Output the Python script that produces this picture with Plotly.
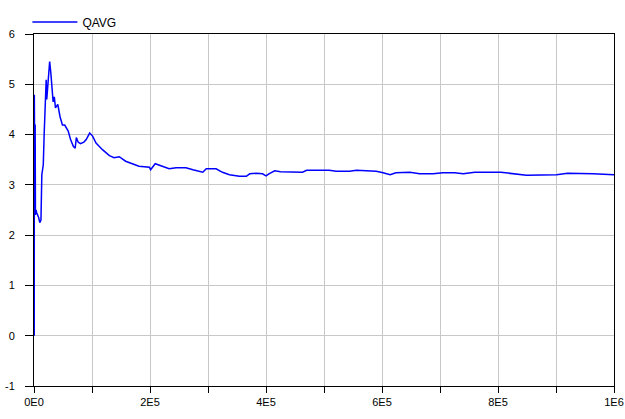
import plotly.graph_objects as go

series_name = "QAVG"

# time (thousands) and average queue values
t_k = [0.4, 0.6, 1.5, 2, 2.5, 3, 3.5, 4.5, 8, 10, 12, 13.5, 15, 16, 17.5, 19, 21, 22, 24, 27,
       29, 31, 33, 35, 37, 41, 45, 49, 53, 59, 63, 68, 71, 73, 76, 80, 86, 90, 96, 101,
       107, 118, 130, 138, 147, 158, 170, 181, 199, 201, 209, 219, 228, 233, 245, 262, 274,
       291, 297, 314, 325, 337, 354, 366, 372, 383, 394, 400, 405, 415, 425, 441, 463, 470,
       509, 521, 544, 556, 590, 602, 614, 624, 640, 648, 665, 688, 705, 725, 740, 760, 805,
       827, 849, 901, 920, 964, 1000]
qavg = [0, 4.79, 2.6, 4.2, 2.4, 3.3, 2.5, 2.45, 2.35, 2.25, 2.3, 3.2, 3.3, 3.4, 4.0, 4.73, 5.09, 4.7, 5.1, 5.45,
        5.23, 4.97, 4.65, 4.75, 4.53, 4.6, 4.35, 4.19, 4.19, 4.07, 3.9, 3.76, 3.73, 3.94, 3.85, 3.82, 3.85, 3.9, 4.03, 3.97,
        3.83, 3.7, 3.58, 3.54, 3.56, 3.47, 3.42, 3.37, 3.35, 3.3, 3.42, 3.38, 3.34, 3.32, 3.34, 3.34, 3.3,
        3.25, 3.32, 3.32, 3.25, 3.2, 3.17, 3.17, 3.22, 3.23, 3.22, 3.18, 3.22, 3.28, 3.26, 3.25, 3.25, 3.29,
        3.29, 3.27, 3.27, 3.29, 3.27, 3.24, 3.2, 3.24, 3.25, 3.25, 3.22, 3.22, 3.24, 3.24, 3.22, 3.25, 3.25,
        3.22, 3.19, 3.2, 3.23, 3.22, 3.2]

x_tick_vals = [0, 1e5, 2e5, 3e5, 4e5, 5e5, 6e5, 7e5, 8e5, 9e5, 1e6]
x_tick_text = ["0E0", "", "2E5", "", "4E5", "", "6E5", "", "8E5", "", "1E6"]
y_tick_vals = [-1, 0, 1, 2, 3, 4, 5, 6]

t = [v * 1000 for v in t_k]

fig = go.Figure()
fig.add_trace(go.Scatter(x=t, y=qavg, mode="lines", name=series_name,
                         line=dict(color="#0000ff", width=1.5)))

axis_common = dict(showline=True, mirror=True, linecolor="#000000", linewidth=1,
                   showgrid=True, gridcolor="#c8c8c8", gridwidth=1,
                   ticks="outside", tickcolor="#000000", zeroline=False,
                   layer="below traces",
                   tickfont=dict(family="Liberation Sans, Arial, sans-serif", size=11, color="#000000"))

fig.update_xaxes(range=[0, 1e6], tickmode="array", tickvals=x_tick_vals, ticktext=x_tick_text,
                 ticklen=6, **axis_common)
fig.update_yaxes(range=[-1, 6], tickmode="array", tickvals=y_tick_vals,
                 ticktext=[str(v) for v in y_tick_vals], ticklen=8, ticklabelstandoff=8, **axis_common)

fig.update_layout(width=625, height=419,
                  margin=dict(l=34, r=11, t=34, b=33, autoexpand=False),
                  paper_bgcolor="white", plot_bgcolor="white",
                  showlegend=True,
                  legend=dict(x=-0.0114, y=1.034, xanchor="left", yanchor="middle", orientation="h",
                              bgcolor="rgba(0,0,0,0)", itemwidth=45,
                              font=dict(family="Liberation Sans, Arial, sans-serif", size=12, color="#000000")))

fig.write_html("out.html", config={"displayModeBar": False},
               post_script="document.body.style.margin='0';")
